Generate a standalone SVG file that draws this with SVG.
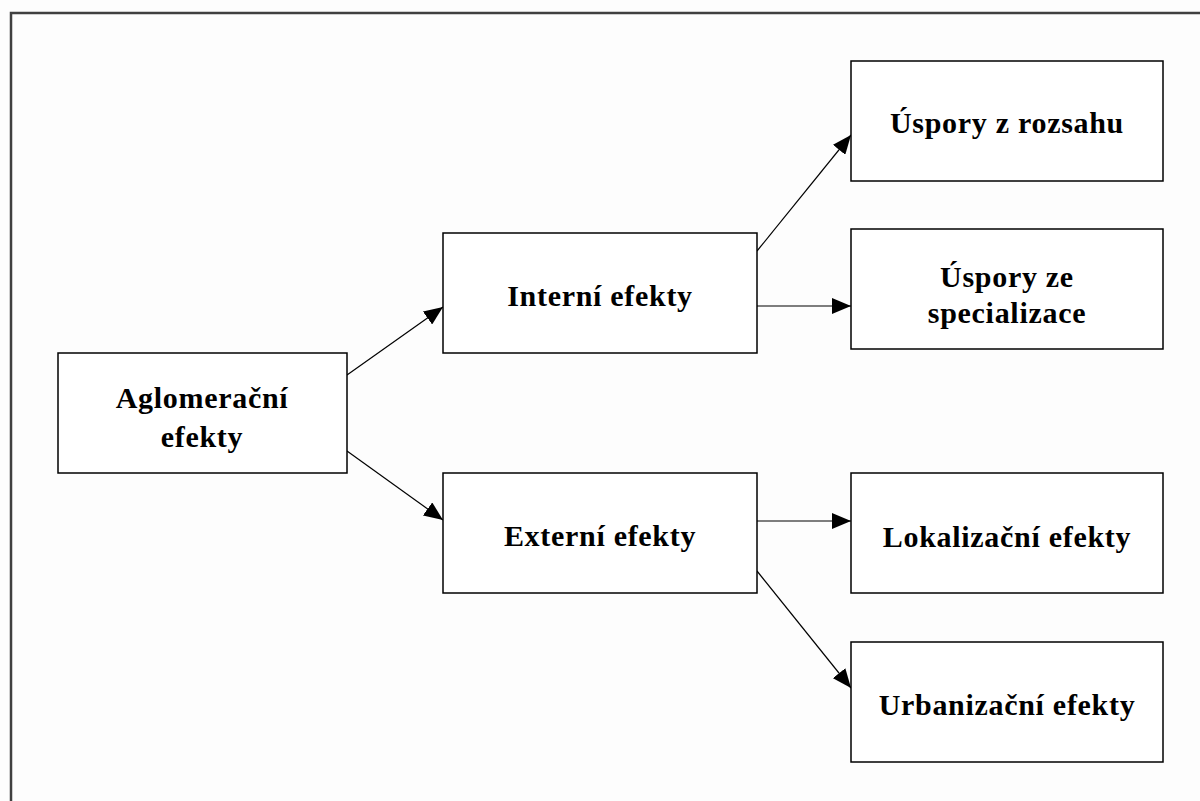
<svg xmlns="http://www.w3.org/2000/svg" width="1200" height="801" viewBox="0 0 1200 801">
<style>
.box{fill:#fff;stroke:#000;stroke-width:1.5}
.lbl{font-family:"Liberation Serif","Times New Roman",serif;font-weight:bold;font-size:30px;letter-spacing:0.7px;fill:#000;text-anchor:middle}
.con{stroke:#000;stroke-width:1.2;fill:none;marker-end:url(#ah)}
</style>
<defs>
<marker id="ah" markerUnits="userSpaceOnUse" markerWidth="20" markerHeight="16" refX="19" refY="8" orient="auto">
<path d="M0,0 L19,8 L0,16 Z" fill="#000"/>
</marker>
</defs>
<rect x="0" y="0" width="1200" height="801" fill="#fdfdfd"/>
<path d="M11,801 L11,13 L1200,13" fill="none" stroke="#404040" stroke-width="2.5"/>
<g id="connectors">
<line class="con" x1="347" y1="375" x2="443" y2="307"/>
<line class="con" x1="347" y1="451" x2="443" y2="520"/>
<line class="con" x1="757" y1="251" x2="851" y2="135"/>
<line class="con" x1="757" y1="306" x2="851" y2="306"/>
<line class="con" x1="757" y1="521" x2="851" y2="521"/>
<line class="con" x1="757" y1="571" x2="851" y2="688"/>
</g>
<g id="aglomeracni">
<rect class="box" x="58" y="353" width="289" height="120"/>
<text class="lbl" x="202" y="408">Aglomerační</text>
<text class="lbl" x="202" y="447">efekty</text>
</g>
<g id="interni">
<rect class="box" x="443" y="233" width="314" height="120"/>
<text class="lbl" x="600" y="306">Interní efekty</text>
</g>
<g id="externi">
<rect class="box" x="443" y="473" width="314" height="120"/>
<text class="lbl" x="600" y="546">Externí efekty</text>
</g>
<g id="uspory-rozsah">
<rect class="box" x="851" y="61" width="312" height="120"/>
<text class="lbl" x="1007" y="133">Úspory z rozsahu</text>
</g>
<g id="uspory-specializace">
<rect class="box" x="851" y="229" width="312" height="120"/>
<text class="lbl" x="1007" y="287">Úspory ze</text>
<text class="lbl" x="1007" y="323">specializace</text>
</g>
<g id="lokalizacni">
<rect class="box" x="851" y="473" width="312" height="120"/>
<text class="lbl" x="1007" y="547">Lokalizační efekty</text>
</g>
<g id="urbanizacni">
<rect class="box" x="851" y="642" width="312" height="120"/>
<text class="lbl" x="1007" y="715">Urbanizační efekty</text>
</g>
</svg>
